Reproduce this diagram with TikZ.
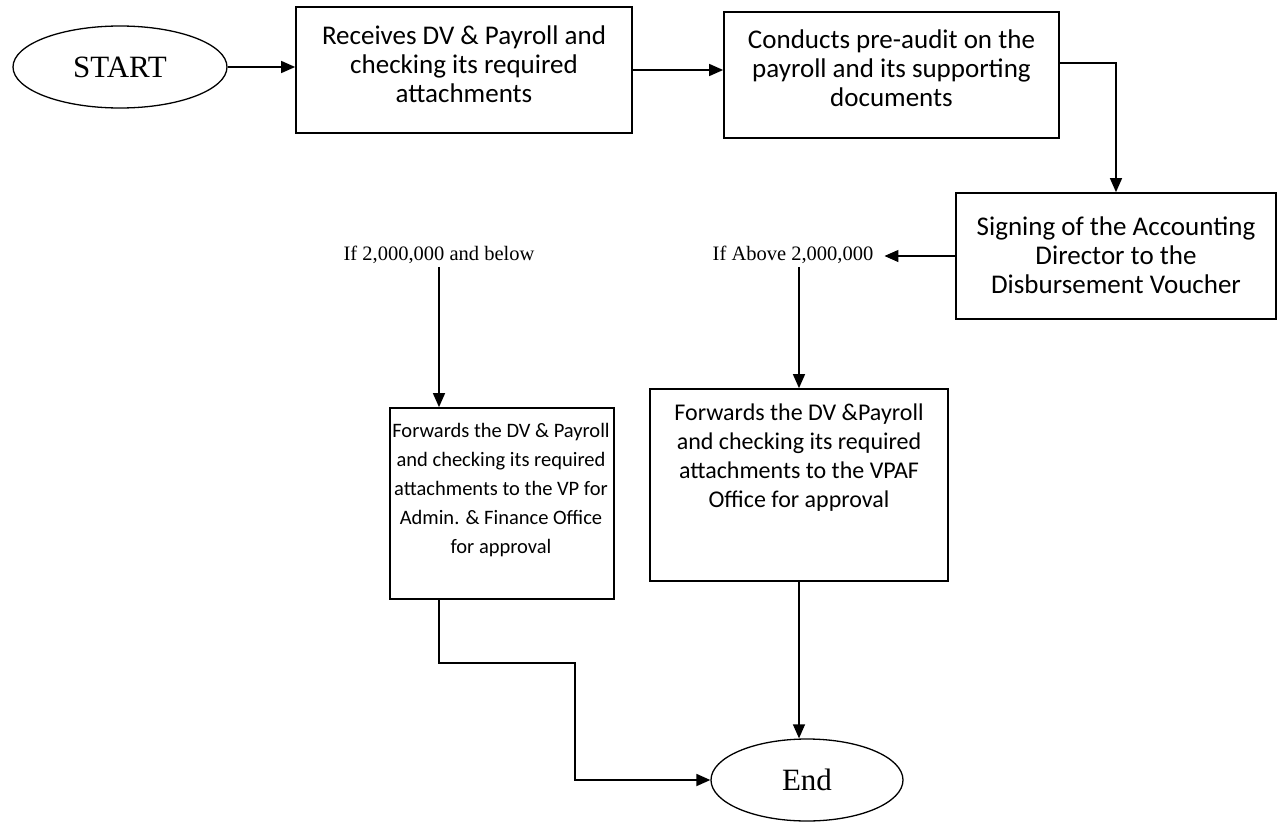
\documentclass[tikz,border=0pt]{standalone}
\usepackage{fontspec}
\setmainfont{Liberation Serif}
\newfontfamily\calfont{Carlito}
\usetikzlibrary{arrows.meta,shapes.geometric}
\begin{document}
\begin{tikzpicture}[x=1pt,y=-1pt,
 box/.style={draw, line width=1.7pt, rectangle, inner sep=0pt},
 btext/.style={font=\calfont\fontsize{27}{29}\selectfont, align=center, inner sep=0pt},
 btextm/.style={font=\calfont\fontsize{24}{29}\selectfont, align=center, inner sep=0pt},
 btexts/.style={font=\calfont\fontsize{20.5}{29}\selectfont, align=center, inner sep=0pt},
 oval/.style={draw, line width=1.3pt, ellipse, inner sep=0pt, font=\fontsize{31}{36}\selectfont},
 cond/.style={font=\fontsize{20.5}{24}\selectfont, inner sep=3pt},
 arr/.style={line width=1.4pt, -{Triangle[length=14pt,width=12pt]}},
 ln/.style={line width=1.3pt}]
\useasboundingbox (0,0) rectangle (1278,822);

\node[oval, minimum width=214pt, minimum height=82pt] (S) at (120,67) {START};
\node[box, minimum width=336pt, minimum height=126pt] (b1) at (464,70) {};
\node[btext] (b1t) at (464,64) {Receives DV \& Payroll and\\checking its required\\attachments};
\node[box, minimum width=335pt, minimum height=126pt] (b2) at (891.5,75) {};
\node[btext] (b2t) at (891.5,68) {Conducts pre-audit on the\\payroll and its supporting\\documents};
\node[box, minimum width=320pt, minimum height=126pt] (b3) at (1116,256) {};
\node[btext] (b3t) at (1116,255) {Signing of the Accounting\\Director to the\\Disbursement Voucher};
\node[cond] (cL) at (439,255) {If 2,000,000 and below};
\node[cond] (cR) at (793,255) {If Above 2,000,000};
\node[box, minimum width=224pt, minimum height=191pt] (b4) at (502,503.5) {};
\node[btexts, anchor=north] (b4t) at (501,423) {Forwards the DV \& Payroll\\and checking its required\\attachments to the VP for\\Admin. \& Finance Office\\for approval};
\node[box, minimum width=298pt, minimum height=192pt] (b5) at (799,485) {};
\node[btextm, anchor=north] (b5t) at (799,404) {Forwards the DV \&Payroll\\and checking its required\\attachments to the VPAF\\Office for approval};
\node[oval, minimum width=192pt, minimum height=82pt] (E) at (807,780) {End};

\draw[arr] (S.east) -- (S.east -| b1.west);
\draw[arr] (b1.east) -- (b1.east -| b2.west);
\draw[arr] ([yshift=12pt]b2.east) -| (b3.north);
\draw[arr] (b3.west) -- ([xshift=8pt]b3.west -| cR.east);
\draw[arr] (cR.south -| b5.north) -- (b5.north);
\draw[arr] (cL.south) -- (cL.south |- b4.north);
\coordinate (k2) at (575,663);
\draw[arr, line width=1.8pt] (b4.south -| cL.south) |- (k2) |- (E.west);
\draw[arr] (b5.south) -- (b5.south |- E.north);
\end{tikzpicture}
\end{document}
